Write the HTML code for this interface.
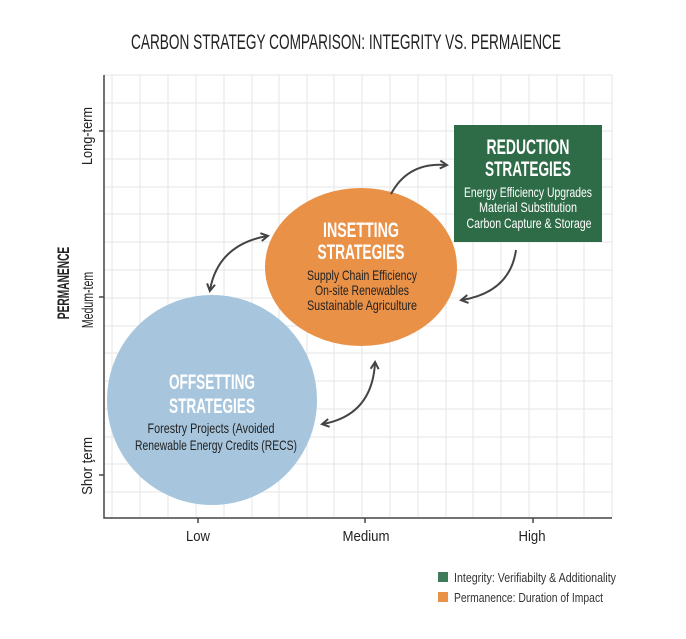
<!DOCTYPE html>
<html><head><meta charset="utf-8"><style>
html,body{margin:0;padding:0;background:#fff;}
svg{display:block;}
text{font-family:"Liberation Sans Narrow","Liberation Sans",sans-serif;}
</style></head><body>
<svg width="686" height="639" viewBox="0 0 686 639" xmlns="http://www.w3.org/2000/svg">
<defs>
<marker id="ah" markerWidth="10" markerHeight="10" refX="7" refY="5" orient="auto-start-reverse" markerUnits="userSpaceOnUse">
<path d="M1,1 L8,5 L1,9" fill="none" stroke="#444" stroke-width="2"/>
</marker>
</defs>
<text x="346" y="49" text-anchor="middle" font-size="21" fill="#222" textLength="430" lengthAdjust="spacingAndGlyphs">CARBON STRATEGY COMPARISON: INTEGRITY VS. PERMAIENCE</text>
<g stroke="#e6e6e6" stroke-width="1">
<line x1="112" y1="75" x2="112" y2="518"/><line x1="140" y1="75" x2="140" y2="518"/><line x1="168" y1="75" x2="168" y2="518"/><line x1="196" y1="75" x2="196" y2="518"/><line x1="224" y1="75" x2="224" y2="518"/><line x1="252" y1="75" x2="252" y2="518"/><line x1="279" y1="75" x2="279" y2="518"/><line x1="307" y1="75" x2="307" y2="518"/><line x1="334" y1="75" x2="334" y2="518"/><line x1="362" y1="75" x2="362" y2="518"/><line x1="390" y1="75" x2="390" y2="518"/><line x1="418" y1="75" x2="418" y2="518"/><line x1="446" y1="75" x2="446" y2="518"/><line x1="473" y1="75" x2="473" y2="518"/><line x1="501" y1="75" x2="501" y2="518"/><line x1="529" y1="75" x2="529" y2="518"/><line x1="557" y1="75" x2="557" y2="518"/><line x1="584" y1="75" x2="584" y2="518"/><line x1="612" y1="75" x2="612" y2="518"/>
<line x1="104" y1="75" x2="612" y2="75"/><line x1="104" y1="103" x2="612" y2="103"/><line x1="104" y1="131" x2="612" y2="131"/><line x1="104" y1="159" x2="612" y2="159"/><line x1="104" y1="187" x2="612" y2="187"/><line x1="104" y1="214" x2="612" y2="214"/><line x1="104" y1="242" x2="612" y2="242"/><line x1="104" y1="270" x2="612" y2="270"/><line x1="104" y1="298" x2="612" y2="298"/><line x1="104" y1="326" x2="612" y2="326"/><line x1="104" y1="353" x2="612" y2="353"/><line x1="104" y1="381" x2="612" y2="381"/><line x1="104" y1="409" x2="612" y2="409"/><line x1="104" y1="437" x2="612" y2="437"/><line x1="104" y1="464" x2="612" y2="464"/><line x1="104" y1="492" x2="612" y2="492"/>
</g>
<g stroke="#444" stroke-width="1.5" fill="none">
<path d="M104,75 L104,518 L612,518"/>
<line x1="99" y1="131" x2="104" y2="131"/><line x1="99" y1="297" x2="104" y2="297"/><line x1="99" y1="475" x2="104" y2="475"/>
<line x1="198" y1="518" x2="198" y2="523"/><line x1="365" y1="518" x2="365" y2="523"/><line x1="533" y1="518" x2="533" y2="523"/>
</g>
<text x="198" y="541" text-anchor="middle" font-size="15" fill="#222" textLength="24" lengthAdjust="spacingAndGlyphs">Low</text>
<text x="366" y="541" text-anchor="middle" font-size="15" fill="#222" textLength="47" lengthAdjust="spacingAndGlyphs">Medium</text>
<text x="532" y="541" text-anchor="middle" font-size="15" fill="#222" textLength="27" lengthAdjust="spacingAndGlyphs">High</text>
<text transform="translate(92,136) rotate(-90) scale(0.85,1)" text-anchor="middle" font-size="15" fill="#222">Long-term</text>
<text transform="translate(93,300) rotate(-90) scale(0.66,1)" text-anchor="middle" font-size="16" fill="#222">Medum-tem</text>
<text transform="translate(92,466) rotate(-90) scale(0.88,1)" text-anchor="middle" font-size="15" fill="#222">Shor ţerm</text>
<text transform="translate(69,283) rotate(-90) scale(0.6,1)" text-anchor="middle" font-size="17" font-weight="bold" fill="#222">PERMANENCE</text>

<circle cx="212" cy="400" r="105" fill="#a7c6dd"/>
<ellipse cx="361" cy="267" rx="96" ry="79" fill="#ea9148"/>
<rect x="454" y="125" width="148" height="117" fill="#2e6b47"/>

<text x="212" y="389" text-anchor="middle" font-size="21" font-weight="bold" fill="#fff" textLength="86" lengthAdjust="spacingAndGlyphs">OFFSETTING</text>
<text x="212" y="413" text-anchor="middle" font-size="21" font-weight="bold" fill="#fff" textLength="86" lengthAdjust="spacingAndGlyphs">STRATEGIES</text>
<text x="211" y="433" text-anchor="middle" font-size="14" fill="#222" textLength="127" lengthAdjust="spacingAndGlyphs">Forestry Projects (Avoided</text>
<text x="216" y="450" text-anchor="middle" font-size="14" fill="#222" textLength="162" lengthAdjust="spacingAndGlyphs">Renewable Energy Credits (RECS)</text>

<text x="361" y="237" text-anchor="middle" font-size="21" font-weight="bold" fill="#fff" textLength="76" lengthAdjust="spacingAndGlyphs">INSETTING</text>
<text x="361" y="259" text-anchor="middle" font-size="21" font-weight="bold" fill="#fff" textLength="87" lengthAdjust="spacingAndGlyphs">STRATEGIES</text>
<text x="362" y="280" text-anchor="middle" font-size="14" fill="#222" textLength="110" lengthAdjust="spacingAndGlyphs">Supply Chain Efficiency</text>
<text x="362" y="295" text-anchor="middle" font-size="14" fill="#222" textLength="94" lengthAdjust="spacingAndGlyphs">On-site Renewables</text>
<text x="362" y="310" text-anchor="middle" font-size="14" fill="#222" textLength="110" lengthAdjust="spacingAndGlyphs">Sustainable Agriculture</text>

<text x="528" y="154" text-anchor="middle" font-size="21" font-weight="bold" fill="#fff" textLength="83" lengthAdjust="spacingAndGlyphs">REDUCTION</text>
<text x="528" y="176" text-anchor="middle" font-size="21" font-weight="bold" fill="#fff" textLength="86" lengthAdjust="spacingAndGlyphs">STRATEGIES</text>
<text x="528" y="197" text-anchor="middle" font-size="14" fill="#fff" textLength="128" lengthAdjust="spacingAndGlyphs">Energy Efficiency Upgrades</text>
<text x="528" y="212" text-anchor="middle" font-size="14" fill="#fff" textLength="98" lengthAdjust="spacingAndGlyphs">Material Substitution</text>
<text x="529" y="228" text-anchor="middle" font-size="14" fill="#fff" textLength="125" lengthAdjust="spacingAndGlyphs">Carbon Capture &amp; Storage</text>

<g stroke="#444" stroke-width="2" fill="none">
<path d="M391,194 Q408,162 446,165" marker-end="url(#ah)"/>
<path d="M210,290 Q218,245 267,236" marker-start="url(#ah)" marker-end="url(#ah)"/>
<path d="M516,250 Q510,292 462,300" marker-end="url(#ah)"/>
<path d="M375,363 Q372,415 323,424" marker-start="url(#ah)" marker-end="url(#ah)"/>
</g>

<rect x="438" y="572" width="10" height="10" fill="#3f7a5a"/>
<rect x="438" y="592" width="10" height="10" fill="#ea9148"/>
<text x="454" y="582" font-size="13" fill="#333" textLength="162" lengthAdjust="spacingAndGlyphs">Integrity: Verifiabilty &amp; Additionality</text>
<text x="454" y="602" font-size="13" fill="#333" textLength="149" lengthAdjust="spacingAndGlyphs">Permanence: Duration of Impact</text>
</svg>
</body></html>
